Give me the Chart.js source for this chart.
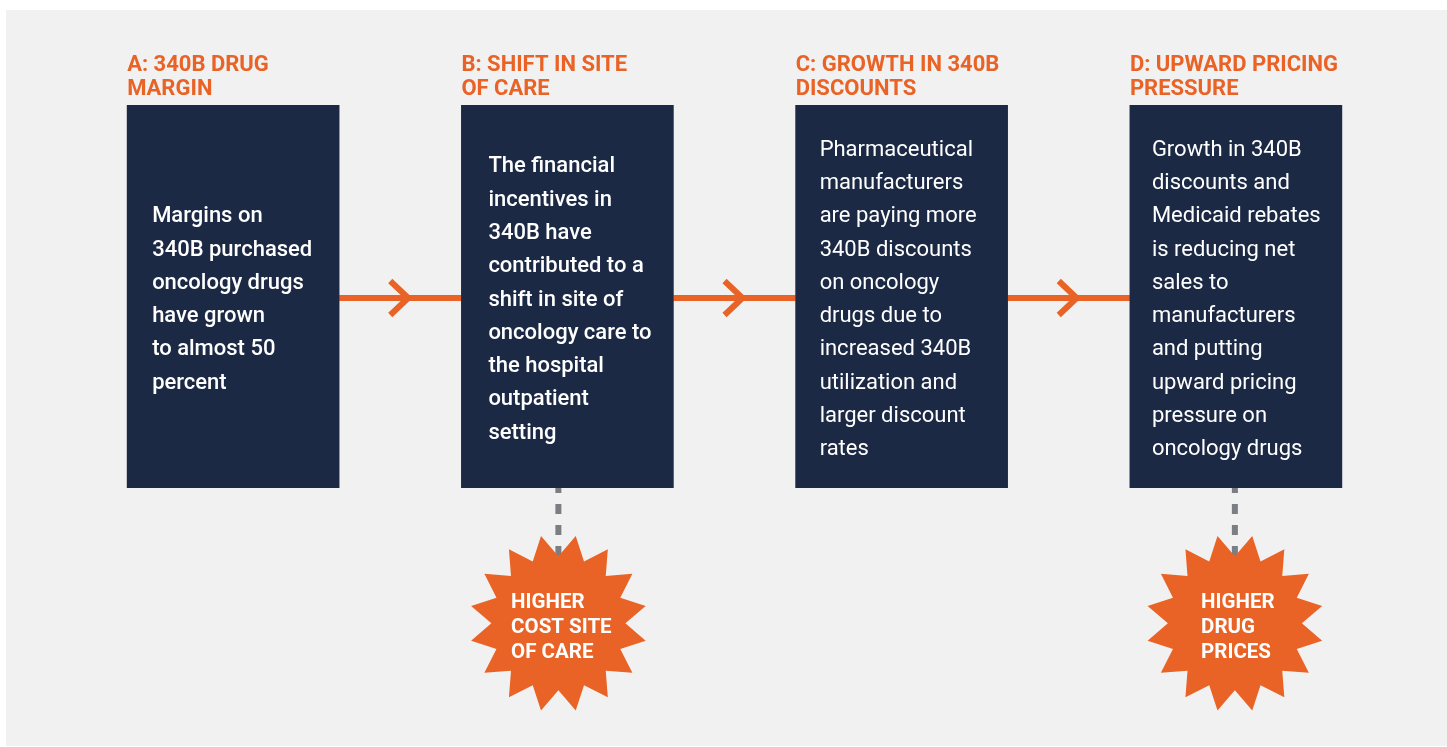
<!DOCTYPE html>
<html>
<head>
<meta charset="utf-8">
<script src="https://cdn.jsdelivr.net/npm/chart.js@4.4.1/dist/chart.umd.min.js"></script>
<style>
  html, body { margin: 0; padding: 0; background: #ffffff; }
  #wrap { width: 1447px; height: 747px; }
</style>
</head>
<body>
<div id="wrap"><canvas id="c" width="1447" height="747"></canvas></div>
<script>
// ---- Data ----
const stageCodes = ['A', 'B', 'C', 'D'];
const stageTitles = [
  ['A: 340B DRUG', 'MARGIN'],
  ['B: SHIFT IN SITE', 'OF CARE'],
  ['C: GROWTH IN 340B', 'DISCOUNTS'],
  ['D: UPWARD PRICING', 'PRESSURE']
];
const stageBodies = [
  ['Margins on', '340B purchased', 'oncology drugs', 'have grown', 'to almost 50', 'percent'],
  ['The financial', 'incentives in', '340B have', 'contributed to a', 'shift in site of', 'oncology care to', 'the hospital', 'outpatient', 'setting'],
  ['Pharmaceutical', 'manufacturers', 'are paying more', '340B discounts', 'on oncology', 'drugs due to', 'increased 340B', 'utilization and', 'larger discount', 'rates'],
  ['Growth in 340B', 'discounts and', 'Medicaid rebates', 'is reducing net', 'sales to', 'manufacturers', 'and putting', 'upward pricing', 'pressure on', 'oncology drugs']
];
const outcomeLabels = [null, ['HIGHER', 'COST SITE', 'OF CARE'], null, ['HIGHER', 'DRUG', 'PRICES']];
const boxSpans = [[0, 1], [0, 1], [0, 1], [0, 1]];
const arrowLevel = 0.496;

// ---- Style ----
const ORANGE = '#e96326';
const NAVY = '#1b2944';
const BG = '#f1f1f1';
const DOT = '#7b7e83';
const bodyWeights = [500, 500, 400, 400];
const bodyInset = [25, 27, 24, 22];
const outcomeShift = [0, -9, 0, -1];

function starPath(ctx, cx, cy, rOut, rIn, n) {
  ctx.beginPath();
  const step = Math.PI / n;
  for (let k = 0; k < 2 * n; k++) {
    const ang = -Math.PI / 2 + k * step;
    const r = (k % 2 === 0) ? rOut : rIn;
    const px = cx + r * Math.cos(ang);
    const py = cy + r * Math.sin(ang);
    if (k === 0) ctx.moveTo(px, py); else ctx.lineTo(px, py);
  }
  ctx.closePath();
}

const diagramPlugin = {
  id: 'diagram',
  beforeDraw(chart) {
    const ctx = chart.ctx;
    ctx.save();
    ctx.fillStyle = '#ffffff';
    ctx.fillRect(0, 0, chart.width, chart.height);
    ctx.fillStyle = BG;
    ctx.fillRect(6, 10, chart.width - 6, 736);
    ctx.restore();
  },
  beforeDatasetsDraw(chart) {
    const ctx = chart.ctx;
    const meta = chart.getDatasetMeta(0);
    const ys = chart.scales.y;
    const ay = ys.getPixelForValue(arrowLevel);
    ctx.save();
    ctx.strokeStyle = ORANGE;
    ctx.lineWidth = 6;
    ctx.lineCap = 'butt';
    for (let i = 0; i < meta.data.length - 1; i++) {
      const a = meta.data[i], b = meta.data[i + 1];
      const x0 = a.x + a.width / 2, x1 = b.x - b.width / 2;
      ctx.beginPath();
      ctx.moveTo(x0, ay);
      ctx.lineTo(x1, ay);
      ctx.stroke();
      const tip = (x0 + x1) / 2 + 8;
      ctx.beginPath();
      ctx.moveTo(tip - 18, ay - 17);
      ctx.lineTo(tip, ay);
      ctx.lineTo(tip - 18, ay + 17);
      ctx.lineJoin = 'miter';
      ctx.stroke();
    }
    ctx.restore();
  },
  afterDatasetsDraw(chart) {
    const ctx = chart.ctx;
    const meta = chart.getDatasetMeta(0);
    ctx.save();
    meta.data.forEach((el, i) => {
      const left = el.x - el.width / 2;
      const top = Math.min(el.y, el.base);
      const bottom = Math.max(el.y, el.base);
      // titles
      ctx.fillStyle = ORANGE;
      ctx.font = 'bold 22px Roboto, "Noto Sans", sans-serif';
      ctx.textBaseline = 'alphabetic';
      ctx.textAlign = 'left';
      const tl = stageTitles[i];
      tl.forEach((t, k) => {
        ctx.fillText(t, left, top - 10 - (tl.length - 1 - k) * 24.5);
      });
      // body
      const lines = stageBodies[i];
      ctx.fillStyle = '#ffffff';
      ctx.font = bodyWeights[i] + ' 22px Roboto, "Noto Sans", sans-serif';
      const lh = 33.3;
      const cy = (top + bottom) / 2;
      const first = cy - (lines.length - 1) / 2 * lh + 9;
      lines.forEach((t, k) => ctx.fillText(t, left + bodyInset[i], first + k * lh));
      // outcome
      const out = outcomeLabels[i];
      if (out) {
        const sx = el.x + outcomeShift[i];
        const sy = bottom + 135.3;
        ctx.save();
        ctx.strokeStyle = DOT;
        ctx.lineWidth = 6;
        ctx.setLineDash([10, 11]);
        ctx.lineDashOffset = 5;
        ctx.beginPath();
        ctx.moveTo(sx, bottom);
        ctx.lineTo(sx, sy - 60);
        ctx.stroke();
        ctx.restore();
        ctx.fillStyle = ORANGE;
        starPath(ctx, sx, sy, 67, 89, 16);
        ctx.fill();
        ctx.fillStyle = '#ffffff';
        ctx.font = 'bold 20.5px Roboto, "Noto Sans", sans-serif';
        let w = 0;
        out.forEach(t => { w = Math.max(w, ctx.measureText(t).width); });
        const lx = sx - w / 2 + 3;
        const fb = sy + 10 - (out.length - 1) / 2 * 25;
        out.forEach((t, k) => ctx.fillText(t, lx, fb + k * 25));
      }
    });
    ctx.restore();
  }
};

new Chart(document.getElementById('c'), {
  type: 'bar',
  data: {
    labels: stageCodes,
    datasets: [{
      data: boxSpans,
      backgroundColor: NAVY,
      borderWidth: 0,
      barThickness: 212
    }]
  },
  options: {
    responsive: false,
    devicePixelRatio: 1,
    animation: false,
    layout: { padding: { top: 105, bottom: 259, left: 66, right: 44 } },
    plugins: { legend: { display: false }, tooltip: { enabled: false } },
    scales: {
      x: { display: false, offset: true },
      y: { display: false, min: 0, max: 1 }
    }
  },
  plugins: [diagramPlugin]
});
</script>
</body>
</html>
